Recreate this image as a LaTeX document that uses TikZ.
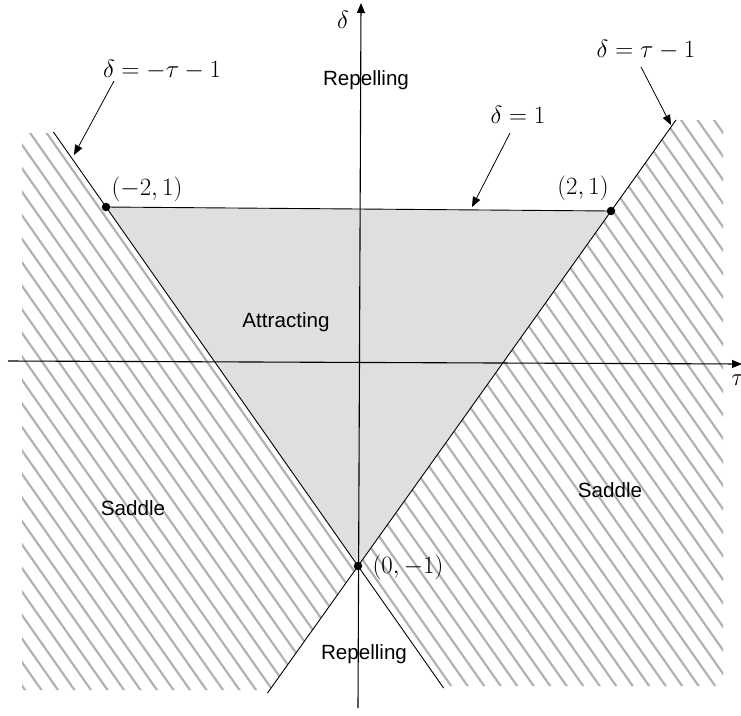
\documentclass[tikz,border=0pt]{standalone}
\usepackage{fontspec}
\newfontfamily\labfont{Liberation Sans}
\usetikzlibrary{arrows.meta}
\begin{document}
\begin{tikzpicture}[x=1pt,y=-1pt,
  hatch/.style={draw=black!30,line width=2.2pt},
  bline/.style={line width=0.9pt},
  axis/.style={line width=1.1pt,-{Triangle[length=10pt,width=8pt]}},
  ann/.style={line width=0.8pt,-{Triangle[length=10pt,width=8pt]}},
  mlab/.style={inner sep=0pt,anchor=base,font=\fontsize{25.5}{30}\selectfont},
  rlab/.style={inner sep=0pt,anchor=base,font=\labfont\fontsize{20.6}{24}\selectfont},
  dot/.style={circle,fill=black,inner sep=0pt,minimum size=8.5pt}]
\useasboundingbox (0,0) rectangle (741,715);
% key points
\coordinate (A) at (106,207);
\coordinate (B) at (611,211);
\coordinate (C) at (358,566);
\coordinate (L1t) at (53.4,132);
\coordinate (L1b) at (443.6,688);
\coordinate (L2t) at (676,120);
\coordinate (L2b) at (267.5,693);
% attracting triangle
\fill[gray!25] (A) -- (B) -- (C) -- cycle;
% hatched saddle regions
\begin{scope}
  \clip (22,133) -- (54.1,133) -- (C) -- (269.6,690) -- (22,690) -- cycle;
  \foreach \i in {-455,-438.5,...,745} \draw[hatch] (\i,100) -- ++(421,600);
\end{scope}
\begin{scope}
  \clip (C) -- (L2t) -- (723,120) -- (723,686) -- (442.2,686) -- cycle;
  \foreach \i in {-455,-438.5,...,745} \draw[hatch] (\i,100) -- ++(421,600);
\end{scope}
% axes
\coordinate (xs) at (8,361);
\coordinate (xe) at (742,364);
\coordinate (ys) at (358,708);
\coordinate (ye) at (361,3);
\draw[axis] (xs) -- (xe);
\draw[axis] (ys) -- (ye);
\node[mlab] (tau) at (738,385) {$\tau$};
\node[mlab] (delta) at (343,28) {$\delta$};
% boundary lines
\draw[bline] (L1t) -- (L1b);
\draw[bline] (L2t) -- (L2b);
\draw[bline] (A) -- (B);
% points
\node[dot] (pA) at (A) {};
\node[dot] (pB) at (B) {};
\node[dot] (pC) at (C) {};
\node[mlab] (lA) at (147,195) {$(-2,1)$};
\node[mlab] (lB) at (583,194) {$(2,1)$};
\node[mlab] (lC) at (408,573) {$(0,-1)$};
% annotations
\node[mlab] (e1) at (162,77) {$\delta=-\tau-1$};
\node[mlab] (e2) at (646,57) {$\delta=\tau-1$};
\node[mlab] (e3) at (518,123) {$\delta=1$};
\coordinate (a1s) at (114,81);
\coordinate (a1e) at (74,155);
\coordinate (a2s) at (641,67);
\coordinate (a2e) at (671,125);
\coordinate (a3s) at (510,133);
\coordinate (a3e) at (472,207);
\draw[ann] (a1s) -- (a1e);
\draw[ann] (a2s) -- (a2e);
\draw[ann] (a3s) -- (a3e);
% region labels
\node[rlab] (rep1) at (366,85) {Repelling};
\node[rlab] (att) at (286,327) {Attracting};
\node[rlab] (sad1) at (133,515) {Saddle};
\node[rlab] (sad2) at (610,497) {Saddle};
\node[rlab] (rep2) at (364,659) {Repelling};
\end{tikzpicture}
\end{document}
